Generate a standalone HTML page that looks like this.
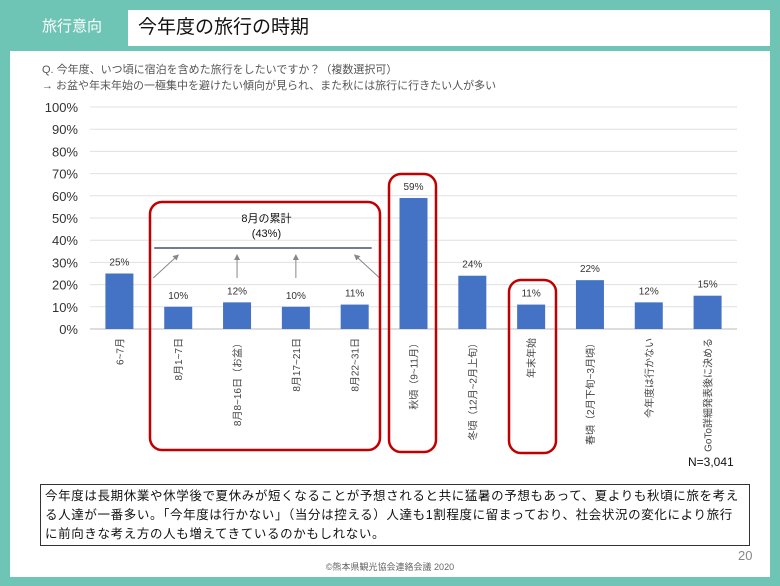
<!DOCTYPE html>
<html><head><meta charset="utf-8"><style>
body{margin:0;width:780px;height:586px;background:#6ec5b6;position:relative;overflow:hidden;font-family:"Liberation Sans","Noto Sans CJK JP",sans-serif}
.abs{position:absolute}
</style></head><body>
<div class="abs" style="left:22px;top:14px;width:100px;height:26px;color:#fff;font-size:15px;line-height:26px;text-align:center">旅行意向</div>
<div class="abs" style="left:128px;top:10px;width:642px;height:36px;background:#fff;font-size:19px;line-height:36px;padding-left:10px;box-sizing:border-box;color:#111">今年度の旅行の時期</div>
<div class="abs" style="left:10px;top:51px;width:760px;height:526px;background:#fff"></div>
<div class="abs" style="left:42px;top:62px;font-size:11px;color:#555;line-height:16px">Q. 今年度、いつ頃に宿泊を含めた旅行をしたいですか？（複数選択可）<br>→ お盆や年末年始の一極集中を避けたい傾向が見られ、また秋には旅行に行きたい人が多い</div>
<svg class="abs" style="left:0;top:0" width="780" height="586"></svg>
<div class="abs" style="left:688px;top:455px;font-size:12px;color:#111">N=3,041</div>
<div class="abs" style="left:40px;top:484px;width:710px;height:62px;border:1px solid #333;box-sizing:border-box;font-size:12.5px;line-height:19px;padding:2px 4px;color:#111;letter-spacing:0.62px">今年度は長期休業や休学後で夏休みが短くなることが予想されると共に猛暑の予想もあって、夏よりも秋頃に旅を考える人達が一番多い。「今年度は行かない」（当分は控える）人達も1割程度に留まっており、社会状況の変化により旅行に前向きな考え方の人も増えてきているのかもしれない。</div>
<div class="abs" style="left:0;width:780px;top:560px;text-align:center;font-size:9px;color:#666">©熊本県観光協会連絡会議 2020</div>
<div class="abs" style="left:738px;top:548px;font-size:13px;color:#888">20</div>
<script>
const categories=["6~7月","8月1~7日","8月8~16日（お盆）","8月17~21日","8月22~31日","秋頃（9~11月）","冬頃（12月~2月上旬）","年末年始","春頃（2月下旬~3月頃）","今年度は行かない","GoTo詳細発表後に決める"];
const values=[25,10,12,10,11,59,24,11,22,12,15];
const ticks=[0,10,20,30,40,50,60,70,80,90,100];
const augustTotal=43;
const NS="http://www.w3.org/2000/svg";
const svg=document.querySelector('svg');
const x0=90,x1=737,y0=329,y100=107;
const yS=v=>y0-(y0-y100)*v/100;
const step=(x1-x0)/categories.length;
const xC=i=>x0+step*(i+0.5);
function mk(t,a){const e=document.createElementNS(NS,t);for(const k in a)e.setAttribute(k,a[k]);svg.appendChild(e);return e;}
ticks.forEach(t=>{
 const l=mk('line',{x1:x0,x2:x1,y1:yS(t),y2:yS(t),stroke:t===0?'#bbb':'#e0e0e0','stroke-width':1});
 
 
 const tx=mk('text',{x:78,y:yS(t)+5,'text-anchor':'end','font-size':13,fill:'#333'});
 tx.textContent=t+'%';
 
 
});
values.forEach((v,i)=>{
 const r=mk('rect',{x:xC(i)-14,y:yS(v),width:28,height:y0-yS(v),fill:'#4472c4'});
 
 
 const t=mk('text',{x:xC(i),y:yS(v)-8,'text-anchor':'middle','font-size':10,fill:'#333'});
 t.textContent=v+'%';
 
 
 const c=mk('text',{x:0,y:0,'text-anchor':'end','font-size':10,fill:'#444',transform:`translate(${xC(i)+4},${338}) rotate(-90)`});
 c.textContent=categories[i];
 
 
});
const ly=248;
const al=mk('line',{x1:xC(1)-24,x2:xC(4)+17,y1:ly,y2:ly,stroke:'#44546a','stroke-width':1.5});


const at=mk('text',{x:(xC(1)+xC(4))/2,y:ly-26,'text-anchor':'middle','font-size':11,fill:'#111'});
at.textContent='8月の累計';


const at2=mk('text',{x:(xC(1)+xC(4))/2,y:ly-11,'text-anchor':'middle','font-size':11,fill:'#111'});
at2.textContent='('+augustTotal+'%)';


mk('defs',{}).innerHTML='<marker id="ah" markerWidth="6" markerHeight="6" refX="5" refY="3" orient="auto"><path d="M0,0L6,3L0,6z" fill="#888"/></marker>';
[[1,25],[2,0],[3,0],[4,-25]].forEach(([i,dx])=>{
 const a=mk('line',{x1:xC(i)-dx,y1:ly+30,x2:xC(i),y2:ly+7,stroke:'#888','stroke-width':1,'marker-end':'url(#ah)'});
 
 
});
[[150,202,230,248],[389,174,47,278],[509,280,47,173]].forEach(([x,y,w,h])=>{
 const r=mk('rect',{x,y,width:w,height:h,rx:12,fill:'none',stroke:'#c00000','stroke-width':2.5});
 
 
});
</script>
</body></html>
